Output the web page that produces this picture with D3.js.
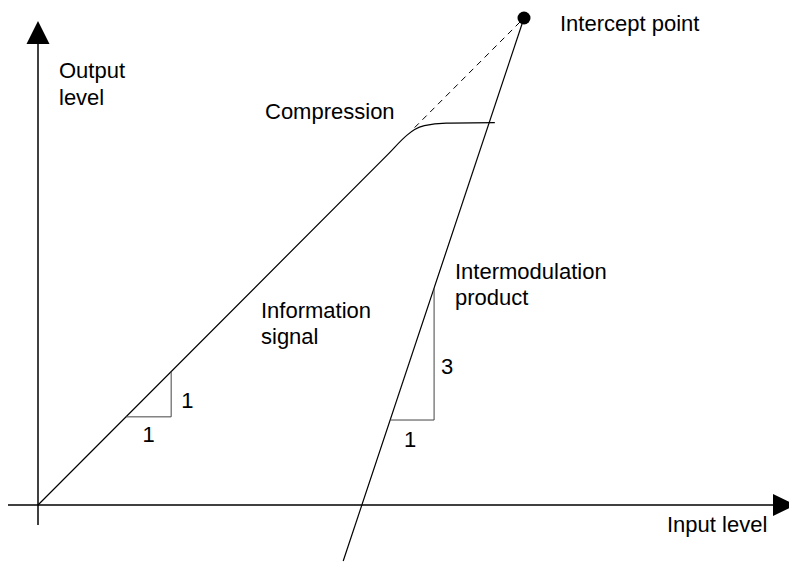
<!DOCTYPE html>
<html>
<head>
<meta charset="utf-8">
<script src="https://cdn.jsdelivr.net/npm/d3@7"></script>
<style>
  body { margin: 0; background: #fff; }
  text { font-family: "Liberation Sans", Arial, sans-serif; font-size: 22px; fill: #000; }
</style>
</head>
<body>
<svg id="chart"></svg>
<script>
//DATA (levels in arbitrary dB-like units, intercept point at 10/10)

//information signal: slope 1, then compression near the top
const infoX = [0, 7.2, 7.6, 7.75, 7.95, 8.4, 9.4];
const infoY = [0, 7.2, 7.6, 7.71, 7.79, 7.84, 7.85];

//dashed extrapolation of the information signal up to the intercept point
const extrapX = [7.75, 10.13];
const extrapY = [7.75, 10.13];

//intermodulation product: slope 3
const imX = [6.28, 10];
const imY = [-1.15, 10];

//intercept point
const intercept = [10, 10];

//slope triangles [x0, y0, x1, y1] (corner on line, corner right, corner on line)
const tri1 = [[1.81, 1.81], [2.74, 1.81], [2.74, 2.74]];
const tri2 = [[7.25, 1.745], [8.15, 1.745], [8.15, 4.45]];

//texts
const yTitle = ['Output', 'level'];
const xTitle = 'Input level';
const infoLabel = ['Information', 'signal'];
const imLabel = ['Intermodulation', 'product'];
const compLabel = 'Compression';
const interceptLabel = 'Intercept point';
const tri1Labels = ['1', '1'];
const tri2Labels = ['1', '3'];

function buildChart() {
    const width = 789;
    const height = 562;
    const svg = d3.select('#chart').attr('width', width).attr('height', height);

    //origin at (38,505), intercept point at (524,18)
    const x = d3.scaleLinear().domain([0, 10]).range([38, 524]);
    const y = d3.scaleLinear().domain([0, 10]).range([505, 18]);

    //axes with arrow heads
    const axes = svg.append('g');
    axes.append('line')
        .attr('x1', 8).attr('x2', 776)
        .attr('y1', y(0)).attr('y2', y(0))
        .attr('stroke', '#000').attr('stroke-width', 1.5);
    axes.append('line')
        .attr('x1', x(0)).attr('x2', x(0))
        .attr('y1', 525).attr('y2', 40)
        .attr('stroke', '#000').attr('stroke-width', 1.5);
    axes.append('path')
        .attr('d', `M773,${y(0) - 11}L796,${y(0)}L773,${y(0) + 11}Z`)
        .attr('fill', '#000');
    axes.append('path')
        .attr('d', `M${x(0) - 11.5},44L${x(0)},21L${x(0) + 11.5},44Z`)
        .attr('fill', '#000');

    const line = d3.line().x(d => x(d[0])).y(d => y(d[1]));
    const curve = d3.line().x(d => x(d[0])).y(d => y(d[1])).curve(d3.curveMonotoneX);

    //information signal
    svg.append('path')
        .attr('d', curve(d3.zip(infoX, infoY)))
        .attr('fill', 'none').attr('stroke', '#000').attr('stroke-width', 1.2);

    //extrapolation
    svg.append('path')
        .attr('d', line(d3.zip(extrapX, extrapY)))
        .attr('fill', 'none').attr('stroke', '#000').attr('stroke-width', 1)
        .attr('stroke-dasharray', '6,5');

    //intermodulation product
    svg.append('path')
        .attr('d', line(d3.zip(imX, imY)))
        .attr('fill', 'none').attr('stroke', '#000').attr('stroke-width', 1.2);

    //slope triangles
    [tri1, tri2].forEach(t => {
        svg.append('path')
            .attr('d', line(t))
            .attr('fill', 'none').attr('stroke', '#444').attr('stroke-width', 1);
    });

    //intercept point
    svg.append('circle')
        .attr('cx', x(intercept[0])).attr('cy', y(intercept[1]))
        .attr('r', 6.5).attr('fill', '#000');

    //labels
    const labels = svg.append('g');
    function multi(lines, lx, ly, dy) {
        lines.forEach((s, i) => {
            labels.append('text').attr('x', lx).attr('y', ly + i * dy).text(s);
        });
    }
    multi(yTitle, 59, 78, 27);
    multi(infoLabel, 261, 318, 26);
    multi(imLabel, 455, 279, 26);
    labels.append('text').attr('x', 265).attr('y', 119).text(compLabel);
    labels.append('text').attr('x', 560).attr('y', 31).text(interceptLabel);
    labels.append('text').attr('x', 667).attr('y', 532).text(xTitle);

    labels.append('text').attr('x', (x(tri1[0][0]) + x(tri1[1][0])) / 2).attr('y', y(tri1[0][1]) + 25)
        .attr('text-anchor', 'middle').text(tri1Labels[0]);
    labels.append('text').attr('x', x(tri1[1][0]) + 10).attr('y', (y(tri1[1][1]) + y(tri1[2][1])) / 2 + 14)
        .text(tri1Labels[1]);
    labels.append('text').attr('x', (x(tri2[0][0]) + x(tri2[1][0])) / 2 - 2).attr('y', y(tri2[0][1]) + 27)
        .attr('text-anchor', 'middle').text(tri2Labels[0]);
    labels.append('text').attr('x', x(tri2[1][0]) + 7).attr('y', 374)
        .text(tri2Labels[1]);
}

buildChart();
</script>
</body>
</html>
